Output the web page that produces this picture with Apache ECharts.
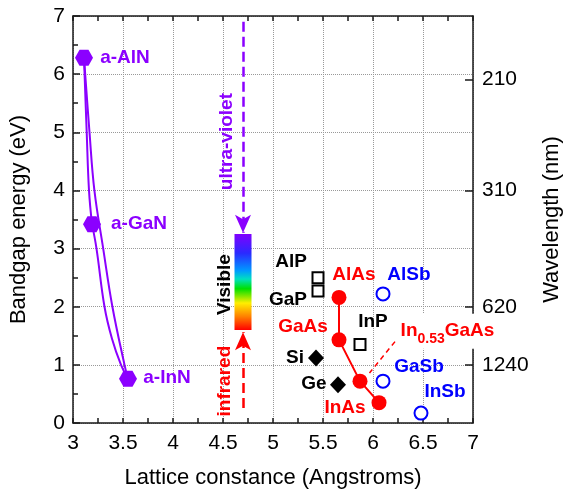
<!DOCTYPE html>
<html>
<head>
<meta charset="utf-8">
<script src="https://cdn.jsdelivr.net/npm/echarts@6/dist/echarts.min.js"></script>
<style>
html, body { margin: 0; padding: 0; background: #fff; }
#chart { width: 571px; height: 494px; }
</style>
</head>
<body>
<div id="chart"></div>
<script>
const FONT = '"Liberation Sans", Arial, sans-serif';
const PURPLE = '#8b00ff', RED = '#ff0000', BLUE = '#0000ff', INK = '#1a1a1a';

// wurtzite nitrides
const nitrideNames = ['a-AlN', 'a-GaN', 'a-InN'];
const nitrideLattice = [3.11, 3.19, 3.55];
const nitrideGap = [6.28, 3.42, 0.76];

// alloy curves
const alGaNCurve = [[3.11, 6.28], [3.137, 5.0], [3.16, 4.0], [3.19, 3.42]];
const inGaNCurve = [[3.19, 3.42], [3.235, 3.0], [3.315, 2.0], [3.39, 1.45], [3.48, 1.0], [3.55, 0.76]];
const alInNCurve = [[3.11, 6.28], [3.165, 5.0], [3.214, 4.0], [3.302, 3.0], [3.394, 2.0], [3.515, 1.0], [3.55, 0.76]];

// arsenides (joined by red line)
const arsenideNames = ['AlAs', 'GaAs', 'In0.53GaAs', 'InAs'];
const arsenideLattice = [5.66, 5.66, 5.87, 6.06];
const arsenideGap = [2.16, 1.43, 0.72, 0.35];

const antimonideNames = ['AlSb', 'GaSb', 'InSb'];
const antimonideLattice = [6.10, 6.10, 6.48];
const antimonideGap = [2.22, 0.72, 0.17];

const phosphideNames = ['AlP', 'GaP', 'InP'];
const phosphideLattice = [5.45, 5.45, 5.87];
const phosphideGap = [2.50, 2.27, 1.35];

const groupIVNames = ['Si', 'Ge'];
const groupIVLattice = [5.43, 5.65];
const groupIVGap = [1.12, 0.66];

// visible band + arrows (lattice position, eV)
const visibleBand = [[4.70, 1.60, 3.25]];
const uvArrow = [[4.70, 6.90], [4.70, 3.27]];
const irArrow = [[4.70, 0.26], [4.70, 1.56]];
const pointer = [[6.22, 1.40], [5.965, 0.86]];

// right axis
const wavelengthTicks = [210, 310, 620, 1240];
const wavePos = wavelengthTicks.map(w => 1240 / w);

const zip = (xs, ys) => xs.map((x, i) => [x, ys[i]]);

// text labels: [text, lattice, eV, color, rotate]
const labels = [
	['a-AlN', 3.52, 6.28, PURPLE, 0],
	['a-GaN', 3.66, 3.43, PURPLE, 0],
	['a-InN', 3.94, 0.78, PURPLE, 0],
	['ultra-violet', 4.54, 4.84, PURPLE, 90],
	['Visible', 4.52, 2.38, '#000', 90],
	['infrared', 4.52, 0.72, RED, 90],
	['AlP', 5.18, 2.78, '#000', 0],
	['GaP', 5.15, 2.12, '#000', 0],
	['GaAs', 5.30, 1.65, RED, 0],
	['AlAs', 5.81, 2.55, RED, 0],
	['AlSb', 6.36, 2.55, BLUE, 0],
	['InP', 6.00, 1.74, '#000', 0],
	['Si', 5.22, 1.12, '#000', 0],
	['Ge', 5.41, 0.67, '#000', 0],
	['GaSb', 6.46, 0.97, BLUE, 0],
	['InSb', 6.72, 0.54, BLUE, 0],
	['InAs', 5.72, 0.26, RED, 0]
];

const axisLineStyle = { color: INK, width: 1.5 };
const tickStyle = { color: INK, width: 1.5 };

const chart = echarts.init(document.getElementById('chart'), null, { renderer: 'canvas' });

const lineCurve = data => ({
	type: 'line', data, smooth: 0.4, showSymbol: false, symbol: 'none', silent: true,
	lineStyle: { color: PURPLE, width: 2 }, z: 3
});

chart.setOption({
	animation: false,
	backgroundColor: '#fff',
	textStyle: { fontFamily: FONT },
	grid: { left: 71, right: 92, top: 16, bottom: 71 },
	xAxis: [{
		type: 'value', min: 3, max: 7, interval: 0.5, position: 'bottom',
		name: 'Lattice constance (Angstroms)', nameLocation: 'middle', nameGap: 44,
		nameTextStyle: { fontSize: 22, color: '#000', fontFamily: FONT },
		axisLine: { show: true, onZero: false, lineStyle: axisLineStyle },
		axisTick: { show: true, inside: true, length: 5, lineStyle: tickStyle },
		minorTick: { show: true, splitNumber: 2, length: 5, lineStyle: tickStyle },
		axisLabel: { fontSize: 21, color: '#000', margin: 10, fontFamily: FONT },
		splitLine: { show: true, lineStyle: { type: 'dotted', color: '#999', width: 1 } }
	}, {
		type: 'value', min: 3, max: 7, interval: 0.5, position: 'top',
		axisLine: { show: true, onZero: false, lineStyle: axisLineStyle },
		axisTick: { show: true, inside: true, length: 5, lineStyle: tickStyle },
		minorTick: { show: true, splitNumber: 2, length: 5, lineStyle: tickStyle },
		axisLabel: { show: false },
		splitLine: { show: false }
	}],
	yAxis: [{
		type: 'value', min: 0, max: 7, interval: 1, position: 'left',
		name: 'Bandgap energy (eV)', nameLocation: 'middle', nameGap: 43, nameRotate: 90,
		nameTextStyle: { fontSize: 22, color: '#000', fontFamily: FONT },
		axisLine: { show: true, onZero: false, lineStyle: axisLineStyle },
		axisTick: { show: true, inside: true, length: 7, lineStyle: tickStyle },
		minorTick: { show: true, splitNumber: 2, length: 5, lineStyle: tickStyle },
		axisLabel: { fontSize: 21, color: '#000', margin: 8, fontFamily: FONT },
		splitLine: { show: true, lineStyle: { type: 'dotted', color: '#999', width: 1 } }
	}, {
		type: 'value', min: 0, max: 7, position: 'right',
		name: 'Wavelength (nm)', nameLocation: 'middle', nameGap: 68, nameRotate: 90,
		nameTextStyle: { fontSize: 22, color: '#000', fontFamily: FONT },
		axisLine: { show: true, onZero: false, lineStyle: axisLineStyle },
		axisTick: { show: true, inside: true, length: 8, lineStyle: tickStyle, customValues: wavePos },
		axisLabel: {
			fontSize: 21, color: '#000', margin: 9, fontFamily: FONT,
			customValues: wavePos, formatter: v => String(Math.round(1240 / v))
		},
		splitLine: { show: false }
	}],
	series: [
		lineCurve(alGaNCurve),
		lineCurve(inGaNCurve),
		lineCurve(alInNCurve),
		{
			type: 'scatter', name: 'nitrides', z: 4,
			data: zip(nitrideLattice, nitrideGap),
			symbol: 'path://M0,7 L4,0 L12,0 L16,7 L12,14 L4,14 Z', symbolSize: [18, 16],
			itemStyle: { color: PURPLE, opacity: 1 }
		},
		{
			type: 'line', name: 'arsenides', z: 4,
			data: zip(arsenideLattice, arsenideGap),
			symbol: 'circle', symbolSize: 15, showSymbol: true,
			lineStyle: { color: RED, width: 2 }, itemStyle: { color: RED, opacity: 1 }
		},
		{
			type: 'line', name: 'pointer', data: pointer, symbol: 'none', silent: true,
			lineStyle: { color: RED, width: 1.5, type: [5, 4] }
		},
		{
			type: 'scatter', name: 'antimonides', z: 4,
			data: zip(antimonideLattice, antimonideGap),
			symbol: 'circle', symbolSize: 13,
			itemStyle: { color: '#fff', borderColor: BLUE, borderWidth: 2, opacity: 1 }
		},
		{
			type: 'scatter', name: 'phosphides', z: 4,
			data: zip(phosphideLattice, phosphideGap),
			symbol: 'rect', symbolSize: 11,
			itemStyle: { color: '#fff', borderColor: '#000', borderWidth: 2, opacity: 1 }
		},
		{
			type: 'scatter', name: 'groupIV', z: 4,
			data: zip(groupIVLattice, groupIVGap),
			symbol: 'diamond', symbolSize: [16, 17],
			itemStyle: { color: '#000', opacity: 1 }
		},
		{
			type: 'custom', name: 'visible', z: 3, silent: true,
			data: visibleBand,
			renderItem: (params, api) => {
				const top = api.coord([api.value(0), api.value(2)]);
				const bot = api.coord([api.value(0), api.value(1)]);
				const w = 17;
				return {
					type: 'rect',
					shape: { x: top[0] - w / 2, y: top[1], width: w, height: bot[1] - top[1] },
					style: {
						fill: new echarts.graphic.LinearGradient(0, 0, 0, 1, [
							{ offset: 0, color: '#8000ff' },
							{ offset: 0.2, color: '#2a2aff' },
							{ offset: 0.38, color: '#0099ff' },
							{ offset: 0.47, color: '#00e0c0' },
							{ offset: 0.57, color: '#00e000' },
							{ offset: 0.72, color: '#ffee00' },
							{ offset: 0.86, color: '#ff8000' },
							{ offset: 1, color: '#ff0000' }
						])
					}
				};
			}
		},
		{
			type: 'line', name: 'arrows', data: [], silent: true,
			markLine: {
				silent: true, symbol: ['none', 'arrow'], symbolSize: [12, 18],
				label: { show: false },
				data: [
					[{ coord: uvArrow[0], lineStyle: { color: PURPLE, width: 2.5, type: [10, 5] }, itemStyle: { color: PURPLE } },
					 { coord: uvArrow[1] }],
					[{ coord: irArrow[0], lineStyle: { color: RED, width: 2.5, type: [10, 5] }, itemStyle: { color: RED } },
					 { coord: irArrow[1] }]
				]
			}
		},
		{
			type: 'scatter', name: 'labels', z: 6, silent: true,
			symbolSize: 0, itemStyle: { color: 'rgba(0,0,0,0)', opacity: 1 },
			data: labels.map(([text, x, y, color, rotate]) => ({
				value: [x, y],
				label: {
					show: true, position: 'inside', formatter: text, color, rotate,
					fontSize: 19, fontWeight: 'bold', fontFamily: FONT, opacity: 1
				}
			})).concat([{
				value: [6.745, 1.58],
				label: {
					show: true, position: 'inside', opacity: 1,
					formatter: '{a|In}{s|0.53}{a|GaAs}',
					backgroundColor: '#fff', padding: [2, 2, 2, 2],
					rich: {
						a: { fontSize: 19, fontWeight: 'bold', color: RED, fontFamily: FONT },
						s: { fontSize: 14, fontWeight: 'bold', color: RED, fontFamily: FONT, padding: [17, 0, 0, 0] }
					}
				}
			}])
		}
	]
});
</script>
</body>
</html>
